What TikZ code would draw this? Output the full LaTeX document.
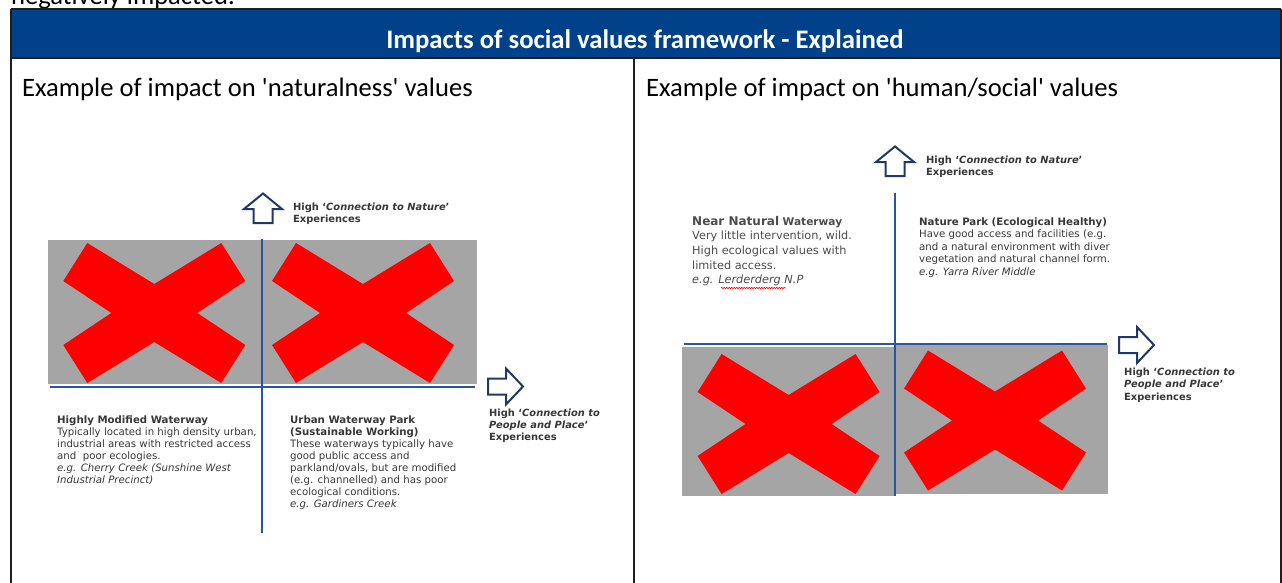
\documentclass[tikz,border=0pt]{standalone}
\usepackage{fontspec}
\setmainfont{Carlito}
\newfontfamily\vfont{DejaVu Sans}
\usetikzlibrary{decorations.pathmorphing}
\definecolor{hdrblue}{RGB}{0,65,137}
\definecolor{tableline}{RGB}{30,30,30}
\definecolor{axisblue}{RGB}{40,85,160}
\definecolor{arrnavy}{RGB}{31,56,100}
\definecolor{xgray}{RGB}{165,165,165}
\definecolor{txtgray}{RGB}{55,55,55}
\definecolor{xred}{RGB}{255,0,0}
\begin{document}
\begin{tikzpicture}[x=1pt,y=-1pt,
  tline/.style={line width=2pt,tableline},
  axis/.style={line width=2pt,axisblue},
  arrowline/.style={draw=arrnavy,line width=2pt,fill=white,line join=miter},
  headtext/.style={font=\fontsize{26.7}{32}\selectfont\bfseries,text=white,inner sep=0pt},
  paneltext/.style={font=\fontsize{26.6}{32}\selectfont,inner sep=0pt,anchor=base west},
  smalltext/.style={font=\vfont\fontsize{10.2}{12.1}\selectfont,text=txtgray,inner sep=0pt,align=left,anchor=base west},
  nattext/.style={font=\vfont\fontsize{11.3}{14.7}\selectfont,text=txtgray!90,inner sep=0pt,align=left,anchor=base west},
  parktext/.style={font=\vfont\fontsize{10.2}{12.5}\selectfont,text=txtgray,inner sep=0pt,align=left,anchor=base west},
  axislabel/.style={font=\vfont\fontsize{9.9}{12.3}\selectfont\bfseries,text=txtgray,inner sep=0pt,align=left,anchor=base west},
  uparr/.pic={\draw[arrowline] (0,0) -- (19,15.5) -- (9.5,15.5) -- (9.5,29.5) -- (-9.5,29.5) -- (-9.5,15.5) -- (-19,15.5) -- cycle;},
  rightarr/.pic={\draw[arrowline] (0,0) -- (-17,-18) -- (-17,-8) -- (-35,-8) -- (-35,8) -- (-17,8) -- (-17,18) -- cycle;},
  redx/.pic={\fill[xred] (-91,-32) -- (-67,-70) -- (0,-29) -- (67,-70) -- (91,-32) -- (43,0) -- (91,32) -- (67,70) -- (0,29) -- (-67,70) -- (-91,32) -- (-43,0) -- cycle;}
]
\useasboundingbox (0,0) rectangle (1282,583);
% text above the table (cut by the page edge)
\node[paneltext] (above) at (11,5) {negatively impacted.};
% header and table
\fill[hdrblue] (10,9) rectangle (1281,58);
\draw[tline] (10.5,9) -- (1281,9);
\draw[tline] (10.5,58) -- (1281,58);
\draw[tline] (10.8,9) -- (10.8,583);
\draw[tline] (1281,9) -- (1281,583);
\draw[tline] (634,58) -- (634,583);
\node[headtext] (title) at (645,41) {Impacts of social values framework - Explained};
\node[paneltext] (lefthead) at (22,97) {Example of impact on \textquotesingle naturalness\textquotesingle{} values};
\node[paneltext] (righthead) at (646,97) {Example of impact on \textquotesingle human/social\textquotesingle{} values};

% ---------- left panel ----------
\fill[xgray] (48,240) rectangle (477,384);
\pic at (154.3,313) {redx};
\pic at (363,313) {redx};
\coordinate (lvt) at (262,239);
\coordinate (lvb) at (262,533);
\coordinate (lhl) at (50,387);
\coordinate (lhr) at (475,387);
\draw[axis] (lvt) -- (lvb);
\draw[axis] (lhl) -- (lhr);
\pic at (263,193.5) {uparr};
\pic at (523,386.5) {rightarr};
% anchors are on the baseline of the last line
\node[axislabel] (lnat) at (293,222.3) {High ‘\textit{Connection to Nature}’\\Experiences};
\node[axislabel] (lppl) at (489,440.6) {High ‘\textit{Connection to}\\\textit{People and Place}’\\Experiences};
\node[smalltext] (hmw) at (57,483.5) {\textbf{Highly Modified Waterway}\\Typically located in high density urban,\\industrial areas with restricted access\\and~ poor ecologies.\\\textit{e.g. Cherry Creek (Sunshine West}\\\textit{Industrial Precinct)}};
\node[smalltext] (uwp) at (290,507.7) {\textbf{Urban Waterway Park}\\\textbf{(Sustainable Working)}\\These waterways typically have\\good public access and\\parkland/ovals, but are modified\\(e.g. channelled) and has poor\\ecological conditions.\\\textit{e.g. Gardiners Creek}};

% ---------- right panel ----------
\fill[xgray] (682,346.5) rectangle (894,496);
\fill[xgray] (896,345) rectangle (1108,494);
\pic at (788.6,424) {redx};
\pic at (995,420.5) {redx};
\coordinate (rvt) at (895,193);
\coordinate (rvb) at (895,496);
\coordinate (rhl) at (684,344);
\coordinate (rhr) at (1107,344);
\draw[axis] (rvt) -- (rvb);
\draw[axis] (rhl) -- (rhr);
\pic at (895,146.5) {uparr};
\pic at (1154,345) {rightarr};
\node[axislabel,font=\vfont\fontsize{9.9}{12.7}\selectfont\bfseries] (rnat) at (926,175.7) {High ‘\textit{Connection to Nature}’\\Experiences};
\node[axislabel,font=\vfont\fontsize{9.9}{12.5}\selectfont\bfseries] (rppl) at (1124,400) {High ‘\textit{Connection to}\\\textit{People and Place}’\\Experiences};
\node[nattext] (nnw) at (692,283.8) {\textbf{\fontsize{12}{14.7}\selectfont Near Natural} \textbf{\fontsize{10.6}{14.7}\selectfont Waterway}\\Very little intervention, wild.\\High ecological values with\\limited access.\\\textit{e.g. Lerderderg N.P}};
\draw[xred,line width=0.6pt,decorate,decoration={snake,amplitude=0.7pt,segment length=2.5pt}] (721,288) -- (786,288);
\node[parktext] (npk) at (919,275) {\textbf{Nature Park (Ecological Healthy)}\\Have good access and facilities (e.g.\\and a natural environment with diver\\vegetation and natural channel form.\\\textit{e.g. Yarra River Middle}};
\end{tikzpicture}
\end{document}
